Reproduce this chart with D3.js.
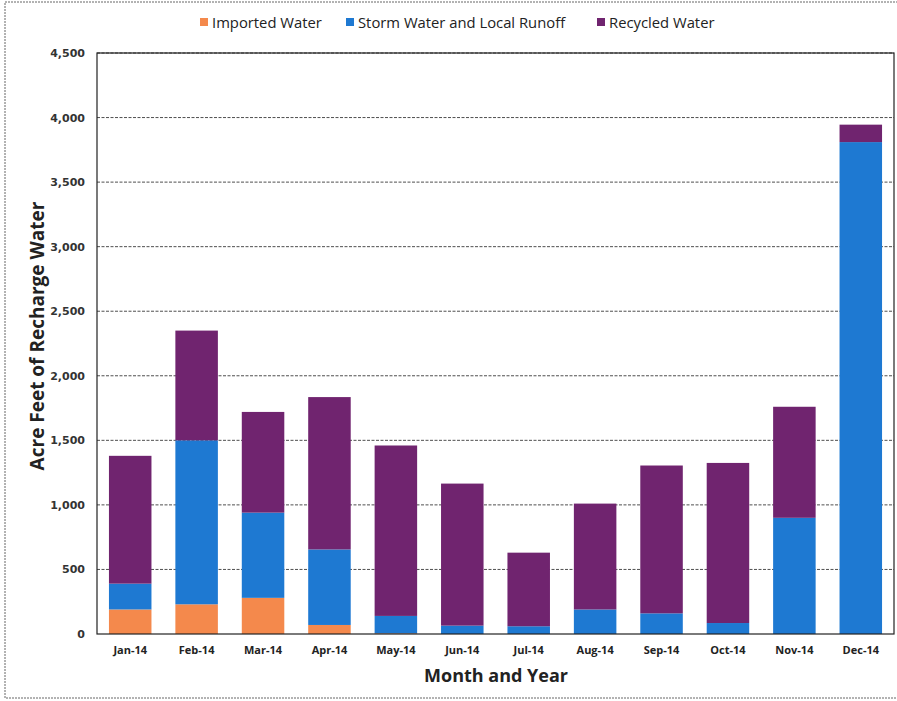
<!DOCTYPE html>
<html>
<head>
<meta charset="utf-8">
<script src="https://cdn.jsdelivr.net/npm/d3@7"></script>
<style>
  html, body { margin: 0; padding: 0; background: #fff; }
  svg { display: block; }
</style>
</head>
<body>
<svg id="chart" width="897" height="701"></svg>
<script>
const months = ["Jan-14","Feb-14","Mar-14","Apr-14","May-14","Jun-14","Jul-14","Aug-14","Sep-14","Oct-14","Nov-14","Dec-14"];
const imported = [190, 230, 280, 70, 5, 0, 0, 0, 0, 0, 0, 0];
const storm    = [200, 1270, 660, 585, 135, 65, 60, 190, 160, 85, 900, 3810];
const recycled = [990, 850, 780, 1180, 1320, 1100, 570, 820, 1145, 1240, 860, 135];
const seriesNames = ["Imported Water", "Storm Water and Local Runoff", "Recycled Water"];
const yTicks = [0, 500, 1000, 1500, 2000, 2500, 3000, 3500, 4000, 4500];

const colors = ["#F4894C", "#1E79D2", "#70246F"];

const svg = d3.select("#chart");
const x0 = 97, x1 = 894, yTop = 53, yBot = 634;

// outer frame
svg.append("rect").attr("x", 5).attr("y", 2).attr("width", 900).attr("height", 696)
  .attr("fill", "none").attr("stroke", "#666").attr("stroke-width", 1).attr("stroke-dasharray", "2,1");

const x = d3.scaleBand().domain(months).range([x0, x1]).paddingInner(0.36).paddingOuter(0.18);
const y = d3.scaleLinear().domain([0, 4500]).range([yBot, yTop]);

// gridlines
svg.append("g").selectAll("line").data(yTicks.filter(t => t > 0)).join("line")
  .attr("x1", x0).attr("x2", x1)
  .attr("y1", d => y(d)).attr("y2", d => y(d))
  .attr("stroke", "#3b3b3b").attr("stroke-width", 0.9).attr("stroke-dasharray", "3,1.5");

// stacked data
const table = months.map((mo, i) => ({ month: mo, imp: imported[i], storm: storm[i], rec: recycled[i] }));
const stack = d3.stack().keys(["imp", "storm", "rec"]);
const stacked = stack(table);

svg.append("g").selectAll("g").data(stacked).join("g")
  .attr("fill", (d, i) => colors[i])
  .selectAll("rect").data(d => d).join("rect")
  .attr("x", d => x(d.data.month))
  .attr("width", x.bandwidth())
  .attr("y", d => y(d[1]))
  .attr("height", d => Math.max(0, y(d[0]) - y(d[1])));

// plot border
svg.append("rect").attr("x", x0).attr("y", yTop).attr("width", x1 - x0).attr("height", yBot - yTop)
  .attr("fill", "none").attr("stroke", "#222").attr("stroke-width", 1.2);

// y axis labels
const yAxis = d3.axisLeft(y).tickValues(yTicks).tickSize(0).tickPadding(12)
  .tickFormat(d3.format(","));
const gy = svg.append("g").attr("transform", `translate(${x0},0)`).call(yAxis);
gy.select(".domain").remove();
gy.selectAll("text").attr("font-family", "DejaVu Sans, Verdana, sans-serif")
  .attr("font-weight", "bold").attr("font-size", 11).attr("fill", "#333");

// x axis labels
const xAxis = d3.axisBottom(x).tickSize(0).tickPadding(12);
const gx = svg.append("g").attr("transform", `translate(0,${yBot})`).call(xAxis);
gx.select(".domain").remove();
gx.selectAll("text").attr("font-family", "Open Sans, Liberation Sans, sans-serif")
  .attr("font-weight", "bold").attr("font-size", 11).attr("fill", "#222");

// axis titles
svg.append("text").attr("x", 496).attr("y", 682).attr("text-anchor", "middle")
  .attr("font-family", "Open Sans, Liberation Sans, sans-serif").attr("font-weight", "bold")
  .attr("font-size", 18).attr("fill", "#222").text("Month and Year");

svg.append("text").attr("transform", "translate(44,336) rotate(-90)").attr("text-anchor", "middle")
  .attr("font-family", "Open Sans, Liberation Sans, sans-serif").attr("font-weight", "bold")
  .attr("font-size", 19).attr("fill", "#222").text("Acre Feet of Recharge Water");

// legend
const legendX = [200, 346, 597];
const lg = svg.append("g");
seriesNames.forEach((name, i) => {
  lg.append("rect").attr("x", legendX[i]).attr("y", 18).attr("width", 8).attr("height", 8).attr("fill", colors[i]);
  lg.append("text").attr("x", legendX[i] + 12).attr("y", 27.5)
    .attr("font-family", "Open Sans, Liberation Sans, sans-serif").attr("font-size", 14.8)
    .attr("fill", "#222").text(name);
});
</script>
</body>
</html>
